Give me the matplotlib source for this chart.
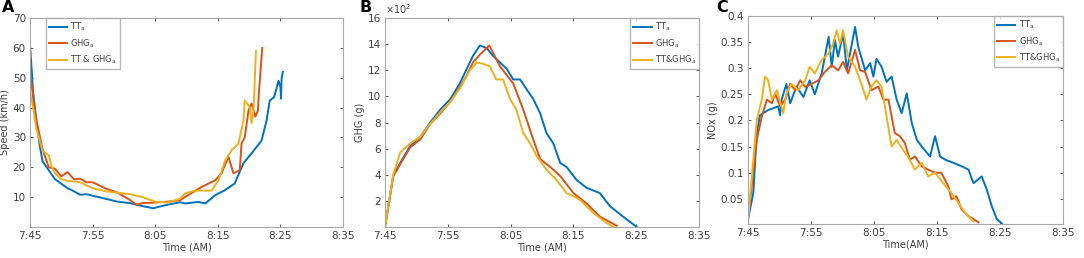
import matplotlib.pyplot as plt
import numpy as np
from matplotlib.ticker import FormatStrFormatter

# minutes after 7:45
# ---- A: speed (km/h)
a_tt_t = [0, 0.5, 1, 1.5, 2, 3, 4, 5, 6, 7, 8, 9, 10, 12, 14, 16, 18, 19.7, 21, 22, 24, 24.8,
          26.9, 28, 29.6, 31.1, 32.7, 34.1, 35.4, 37, 37.8, 38.3, 39, 39.7, 40.0, 40.1, 40.2, 40.4]
a_tt_v = [61, 45, 36, 28, 22, 19, 16, 14.5, 13, 12, 10.8, 11, 10.5, 9.5, 8.5, 8, 7, 6.3, 7, 7.5, 8.3, 7.9,
          8.4, 7.9, 10.7, 12.3, 14.6, 21.4, 24.7, 29, 35.8, 42.4, 43.5, 49, 47, 43, 50, 52]
a_ghg_t = [0, 0.5, 1, 2, 3, 4, 5, 6, 7, 8, 9, 10, 11, 12, 14, 16, 17, 18, 20, 22, 24, 24.8,
           27.4, 29.6, 30.6, 31.7, 32.5, 33.5, 33.8, 34.3, 34.9, 35.4, 36, 36.4, 36.6, 37.1]
a_ghg_v = [53, 43, 36, 26, 20, 19.5, 17, 18.4, 16, 16.2, 15, 15, 14, 13, 11.5, 9, 7.5, 8, 8.2, 8.5, 9, 10.1,
           13.4, 15.7, 18, 23.5, 18, 19, 28, 30, 39, 41.4, 37, 39, 46, 60]
a_mix_t = [0, 0.5, 1, 2, 3, 3.5, 4, 5, 6, 8, 10, 12, 14, 16, 18, 20, 22, 24, 24.8,
           26.4, 29, 30.1, 31.2, 32.2, 33.3, 34.1, 34.3, 35.1, 35.4, 35.7, 36.1]
a_mix_v = [45, 40, 33, 25.5, 24, 20, 18, 16, 15.5, 15, 13, 12, 11.5, 11, 10, 8.5, 8.2, 9.5, 11.3,
           12.2, 12.2, 15.6, 22.4, 25.7, 28, 35.8, 42.4, 40.2, 34.7, 39, 59]

# ---- B: GHG (x10^2 g)
b_tt_t = [0, 1.3, 2.4, 4, 5.6, 7.2, 8.8, 10.4, 11.9, 13, 14, 15.1, 16.2, 17.2, 18.3, 19.4, 20.4, 21.5,
          22.6, 23.6, 24.7, 25.7, 26.8, 27.9, 28.9, 30.5, 32.1, 34.2, 35.8, 37.9, 40.1]
b_tt_v = [0, 3.9, 4.9, 6.2, 6.9, 8, 9, 9.8, 11, 12.1, 13.1, 13.9, 13.7, 13.1, 12.6, 12.1, 11.3, 11.3,
          10.5, 9.8, 8.7, 7.2, 6.4, 4.9, 4.6, 3.6, 3, 2.6, 1.6, 0.8, 0]
b_ghg_t = [0, 1.3, 2.4, 4, 5.6, 7.2, 8.8, 10.4, 11.9, 13, 14, 15.1, 16.6, 18.3, 20.4, 22, 23.6, 24.7,
           26.3, 27.9, 30, 32.1, 34.2, 36.9]
b_ghg_v = [0, 3.9, 4.8, 6.1, 6.7, 7.9, 8.7, 9.6, 10.7, 11.6, 12.6, 13.2, 13.9, 12.3, 11, 9, 6.7, 5.2,
           4.6, 3.9, 2.6, 1.8, 0.8, 0.1]
b_mix_t = [0, 1.3, 2.4, 4, 5.6, 7.2, 8.8, 10.4, 11.9, 13.5, 14.6, 15.6, 16.7, 17.7, 18.8, 19.9, 20.9,
           22, 23.1, 24.2, 25.7, 27.3, 28.9, 31, 33.1, 35.3, 36.4]
b_mix_v = [0, 4.0, 5.7, 6.4, 6.9, 7.9, 8.8, 9.6, 10.6, 12, 12.6, 12.5, 12.3, 11.3, 11.3, 9.8, 9,
           7.2, 6.4, 5.4, 4.4, 3.6, 2.6, 2.1, 1.1, 0.3, 0]

# ---- C: NOx (g)
c_tt_t = [0.05, 0.85, 1.4, 1.9, 3.2, 4.8, 5.1, 5.35, 6.1, 6.7, 7.7, 8.8, 9.8, 10.6, 11.7, 12.8, 13.3,
          13.8, 14.3, 15.1, 15.7, 16.5, 17, 17.5, 18.6, 19.4, 19.9, 20.4, 21.2, 22, 22.8, 23.6, 24.4,
          25.2, 26, 26.8, 27.6, 28.9, 29.7, 30.5, 31.3, 32.6, 34, 35, 35.8, 37.1, 37.9, 38.7, 39.5, 40.3]
c_tt_v = [0.014, 0.061, 0.176, 0.21, 0.22, 0.227, 0.21, 0.24, 0.27, 0.233, 0.265, 0.245, 0.277, 0.25,
          0.29, 0.36, 0.303, 0.354, 0.322, 0.366, 0.296, 0.347, 0.379, 0.341, 0.296, 0.31, 0.284, 0.318,
          0.303, 0.274, 0.284, 0.24, 0.214, 0.252, 0.195, 0.163, 0.15, 0.131, 0.17, 0.131, 0.125, 0.119,
          0.112, 0.106, 0.08, 0.093, 0.068, 0.036, 0.011, 0.003]
c_ghg_t = [0.05, 1.4, 2.2, 3, 3.8, 4.3, 5.1, 5.9, 6.7, 7.5, 8.3, 9.1, 10.1, 11.2, 12.2, 13.3, 14.3, 15.1,
           15.9, 17, 17.8, 18.6, 19.6, 20.7, 21.5, 22.3, 23.3, 24.1, 24.9, 25.7, 26.5, 27.6, 28.6, 29.7,
           30.7, 31.8, 32.3, 33.1, 33.9, 35, 36.6]
c_ghg_v = [0.014, 0.163, 0.208, 0.24, 0.233, 0.252, 0.227, 0.24, 0.27, 0.258, 0.277, 0.264, 0.27, 0.277,
           0.293, 0.306, 0.296, 0.312, 0.29, 0.335, 0.296, 0.293, 0.258, 0.265, 0.24, 0.24, 0.176, 0.17,
           0.157, 0.125, 0.131, 0.112, 0.106, 0.1, 0.1, 0.074, 0.049, 0.055, 0.03, 0.017, 0.005]
c_mix_t = [0.05, 1.4, 2.2, 2.7, 3.2, 3.8, 4.6, 5.6, 6.1, 6.9, 8, 9.1, 9.8, 10.6, 11.7, 12.8, 13.5, 14.1,
           14.6, 15.1, 15.9, 17, 18, 18.8, 19.6, 20.4, 21.2, 22, 22.8, 23.6, 24.6, 25.4, 26.5, 27.6, 28.6,
           29.7, 31, 32.3, 33.4, 34.5, 35.8]
c_mix_v = [0.014, 0.201, 0.24, 0.284, 0.277, 0.24, 0.258, 0.214, 0.252, 0.27, 0.258, 0.277, 0.303, 0.29,
           0.316, 0.328, 0.347, 0.373, 0.347, 0.373, 0.322, 0.303, 0.27, 0.24, 0.265, 0.277, 0.265, 0.208,
           0.15, 0.163, 0.144, 0.131, 0.106, 0.119, 0.093, 0.1, 0.08, 0.061, 0.042, 0.023, 0.007]

xticks = [0, 10, 20, 30, 40, 50]
xlabels = ['7:45', '7:55', '8:05', '8:15', '8:25', '8:35']

blue = '#0072BD'
red = '#D95319'
yellow = '#EDB120'
txt = '#404040'
edge = '#a8a8a8'

fig = plt.figure(figsize=(10.84, 2.58), dpi=100)

def setup(ax, ylabel, xlabel):
	ax.set_xlim(0, 50)
	ax.set_xticks(xticks)
	ax.set_xticklabels(xlabels)
	ax.tick_params(direction='in', length=2.5, width=0.6, labelsize=7.5, colors=txt,
		top=True, right=True, pad=3)
	for s in ax.spines.values():
		s.set_color(edge)
		s.set_linewidth(0.8)
	ax.set_ylabel(ylabel, fontsize=7, color=txt, labelpad=2)
	ax.set_xlabel(xlabel, fontsize=7, color=txt, labelpad=1)

def add_legend(ax, **kw):
	ax.legend(fontsize=6, frameon=True, fancybox=False, edgecolor=edge, borderaxespad=0,
		handlelength=2.2, labelspacing=0.45, borderpad=0.35, handletextpad=0.4,
		labelcolor=txt, **kw)

lw = 1.4

axA = fig.add_axes([0.0277, 0.120, 0.2887, 0.810])
axA.plot(a_tt_t, a_tt_v, color=blue, lw=lw, label=r'TT$_\mathregular{a}$')
axA.plot(a_ghg_t, a_ghg_v, color=red, lw=lw, label=r'GHG$_\mathregular{a}$')
axA.plot(a_mix_t, a_mix_v, color=yellow, lw=lw, label=r'TT & GHG$_\mathregular{a}$')
axA.set_ylim(0, 70)
axA.set_yticks([10, 20, 30, 40, 50, 60, 70])
setup(axA, 'Speed (km/h)', 'Time (AM)')
add_legend(axA, loc='upper left', bbox_to_anchor=(0.05, 1.0))

axB = fig.add_axes([0.3552, 0.120, 0.2897, 0.810])
axB.plot(b_tt_t, b_tt_v, color=blue, lw=lw, label=r'TT$_\mathregular{a}$')
axB.plot(b_ghg_t, b_ghg_v, color=red, lw=lw, label=r'GHG$_\mathregular{a}$')
axB.plot(b_mix_t, b_mix_v, color=yellow, lw=lw, label=r'TT&GHG$_\mathregular{a}$')
axB.set_ylim(0, 16)
axB.set_yticks([2, 4, 6, 8, 10, 12, 14, 16])
setup(axB, 'GHG (g)', 'Time (AM)')
axB.text(0.0, 1.01, r'$\times10^{2}$', transform=axB.transAxes, fontsize=7, color=txt,
	ha='left', va='bottom')
add_legend(axB, loc='upper right')

axC = fig.add_axes([0.690, 0.132, 0.2906, 0.806])
axC.plot(c_tt_t, c_tt_v, color=blue, lw=lw, label=r'TT$_\mathregular{a}$')
axC.plot(c_ghg_t, c_ghg_v, color=red, lw=lw, label=r'GHG$_\mathregular{a}$')
axC.plot(c_mix_t, c_mix_v, color=yellow, lw=lw, label=r'TT&GHG$_\mathregular{a}$')
axC.set_ylim(0.002, 0.4)
axC.set_yticks([0.05, 0.1, 0.15, 0.2, 0.25, 0.3, 0.35, 0.4])
axC.yaxis.set_major_formatter(FormatStrFormatter('%g'))
setup(axC, 'NOx (g)', 'Time(AM)')
add_legend(axC, loc='upper right')

for x, letter in [(0.002, 'A'), (0.332, 'B'), (0.661, 'C')]:
	fig.text(x, 1.0, letter, fontsize=11.5, fontweight='bold', ha='left', va='top')

fig.savefig('out.png', dpi=100)
